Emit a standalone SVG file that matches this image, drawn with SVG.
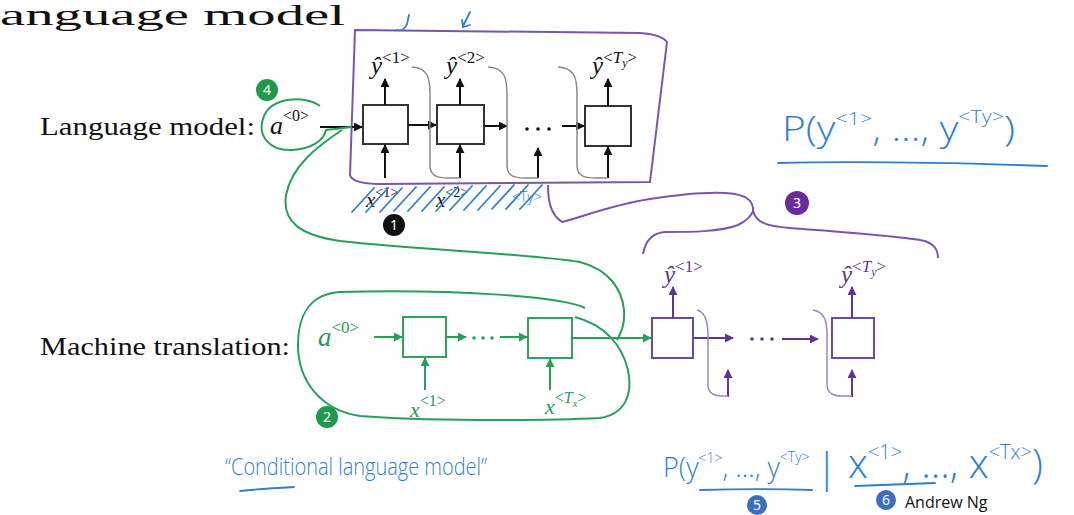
<svg xmlns="http://www.w3.org/2000/svg" width="1074" height="515" viewBox="0 0 1074 515">
<defs>
<style>
.serif{font-family:"Liberation Serif","DejaVu Serif",serif;fill:#111}
.it{font-style:italic}
.box{fill:#fff;stroke:#333;stroke-width:2}
.gbox{fill:#fff;stroke:#2ea35e;stroke-width:2}
.pbox{fill:#fff;stroke:#6e4a9e;stroke-width:2}
.k{stroke:#111;stroke-width:2;fill:none}
.g{stroke:#27a05a;stroke-width:2;fill:none}
.p{stroke:#5e3596;stroke-width:2;fill:none}
.pl{stroke:#7b55ad;stroke-width:2;fill:none}
.gray{stroke:#8a8a8a;stroke-width:1.5;fill:none}
.pgray{stroke:#9c86c4;stroke-width:1.5;fill:none}
.blue{stroke:#2f7fd0;stroke-width:1.8;fill:none;stroke-linecap:round}
.gt{fill:#2a9a58}
.pt{fill:#5e3596}
.hand{font-family:"Open Sans","Noto Sans",sans-serif;font-weight:300;fill:#2f7fd0}
.num{font-family:"Noto Sans","Liberation Sans",sans-serif;font-size:14px;fill:#fff;text-anchor:middle}
</style>
<marker id="ak" viewBox="0 0 10 10" refX="9" refY="5" markerWidth="9" markerHeight="9" markerUnits="userSpaceOnUse" orient="auto"><path d="M0,0 L10,5 L0,10 z" fill="#111"/></marker>
<marker id="ag" viewBox="0 0 10 10" refX="9" refY="5" markerWidth="9" markerHeight="9" markerUnits="userSpaceOnUse" orient="auto"><path d="M0,0 L10,5 L0,10 z" fill="#27a05a"/></marker>
<marker id="ap" viewBox="0 0 10 10" refX="9" refY="5" markerWidth="9" markerHeight="9" markerUnits="userSpaceOnUse" orient="auto"><path d="M0,0 L10,5 L0,10 z" fill="#5e3596"/></marker>
</defs>
<rect width="1074" height="515" fill="#fff"/>

<text class="serif" x="0" y="25" font-size="29" textLength="345" lengthAdjust="spacingAndGlyphs">anguage model</text>
<text class="serif" x="40" y="135" font-size="25" textLength="215" lengthAdjust="spacingAndGlyphs">Language model:</text>
<text class="serif" x="40" y="355" font-size="25" textLength="250" lengthAdjust="spacingAndGlyphs">Machine translation:</text>

<g id="lm-frame">
<path class="pl" d="M355,30 L640,33 C655,34 663,37 667,42 L650,182 L380,184 C365,184 352,182 350,175 Z"/>
</g>

<g id="lm-a0">
<text class="serif it" x="270" y="134" font-size="26">a<tspan font-style="normal" font-size="16" dy="-13">&lt;0&gt;</tspan></text>
</g>
<g id="lm-cell1"><rect class="box" x="363" y="105" width="45" height="39"/>
<text class="serif it" x="371" y="74" font-size="25">ŷ<tspan font-style="normal" font-size="17" dy="-11">&lt;1&gt;</tspan></text>
<text class="serif it" x="366" y="207" font-size="21">x<tspan font-style="normal" font-size="14" dy="-10">&lt;1&gt;</tspan></text></g>
<g id="lm-cell2"><rect class="box" x="437" y="105" width="47" height="39"/>
<text class="serif it" x="446" y="74" font-size="25">ŷ<tspan font-style="normal" font-size="17" dy="-11">&lt;2&gt;</tspan></text>
<text class="serif it" x="436" y="207" font-size="21">x<tspan font-style="normal" font-size="14" dy="-10">&lt;2&gt;</tspan></text></g>
<g id="lm-dots"><circle cx="527" cy="129" r="1.8" fill="#111"/><circle cx="538" cy="129" r="1.8" fill="#111"/><circle cx="549" cy="129" r="1.8" fill="#111"/></g>
<g id="lm-cell3"><rect class="box" x="585" y="106" width="46" height="40"/>
<text class="serif it" x="592" y="74" font-size="25">ŷ<tspan font-style="normal" font-size="17" dy="-11">&lt;</tspan><tspan font-size="17">T</tspan><tspan font-size="12" dy="4">y</tspan><tspan font-style="normal" font-size="17" dy="-4">&gt;</tspan></text></g>

<g id="mt-a0"><text class="serif it gt" x="318" y="346" font-size="27">a<tspan font-style="normal" font-size="17" dy="-13">&lt;0&gt;</tspan></text></g>
<g id="enc-cell1"><rect class="gbox" x="403" y="317" width="43" height="40"/>
<text class="serif it gt" x="410" y="417" font-size="22">x<tspan font-style="normal" font-size="16" dy="-11">&lt;1&gt;</tspan></text></g>
<g id="enc-dots"><circle cx="474" cy="338" r="1.8" fill="#27a05a"/><circle cx="483" cy="338" r="1.8" fill="#27a05a"/><circle cx="492" cy="338" r="1.8" fill="#27a05a"/></g>
<g id="enc-cell2"><rect class="gbox" x="528" y="318" width="44" height="40"/>
<text class="serif it gt" x="545" y="414" font-size="22">x<tspan font-style="normal" font-size="16" dy="-11">&lt;</tspan><tspan font-size="16">T</tspan><tspan font-size="11" dy="4">x</tspan><tspan font-style="normal" font-size="16" dy="-4">&gt;</tspan></text></g>

<g id="dec-cell1"><rect class="pbox" x="652" y="318" width="41" height="40"/>
<text class="serif it pt" x="664" y="283" font-size="25">ŷ<tspan font-style="normal" font-size="17" dy="-11">&lt;1&gt;</tspan></text></g>
<g id="dec-dots"><circle cx="752" cy="339" r="1.8" fill="#5e3596"/><circle cx="762" cy="339" r="1.8" fill="#5e3596"/><circle cx="772" cy="339" r="1.8" fill="#5e3596"/></g>
<g id="dec-cell2"><rect class="pbox" x="832" y="318" width="42" height="40"/>
<text class="serif it pt" x="841" y="283" font-size="25">ŷ<tspan font-style="normal" font-size="17" dy="-11">&lt;</tspan><tspan font-size="17">T</tspan><tspan font-size="12" dy="4">y</tspan><tspan font-style="normal" font-size="17" dy="-4">&gt;</tspan></text></g>

<g id="connectors">
<path class="k" d="M320,127 L362,127" marker-end="url(#ak)"/>
<path class="k" d="M408,125 L436,125" marker-end="url(#ak)"/>
<path class="k" d="M484,126 L507,126" marker-end="url(#ak)"/>
<path class="k" d="M562,126 L584,126" marker-end="url(#ak)"/>
<path class="k" d="M385,105 L385,79" marker-end="url(#ak)"/>
<path class="k" d="M460,105 L460,79" marker-end="url(#ak)"/>
<path class="k" d="M608,106 L608,79" marker-end="url(#ak)"/>
<path class="k" d="M385,178 L385,145" marker-end="url(#ak)"/>
<path class="k" d="M460,178 L460,145" marker-end="url(#ak)"/>
<path class="k" d="M538,178 L538,148" marker-end="url(#ak)"/>
<path class="k" d="M608,178 L608,147" marker-end="url(#ak)"/>
<path class="gray" d="M412,67 C428,68 430,78 430,95 L430,165 C430,176 437,178 448,178 L460,178"/>
<path class="gray" d="M488,67 C505,68 507,78 507,95 L507,165 C507,176 514,178 525,178 L538,178"/>
<path class="gray" d="M558,67 C575,68 577,78 577,95 L577,165 C577,176 584,178 595,178 L608,178"/>

<path class="g" d="M374,337 L402,337" marker-end="url(#ag)"/>
<path class="g" d="M446,337 L466,337" marker-end="url(#ag)"/>
<path class="g" d="M500,337 L527,337" marker-end="url(#ag)"/>
<path class="g" d="M572,338 L651,338" marker-end="url(#ag)"/>
<path class="g" d="M425,390 L425,358" marker-end="url(#ag)"/>
<path class="g" d="M550,390 L550,359" marker-end="url(#ag)"/>

<path class="p" d="M693,338 L733,338" marker-end="url(#ap)"/>
<path class="p" d="M782,339 L818,339" marker-end="url(#ap)"/>
<path class="p" d="M673,318 L673,287" marker-end="url(#ap)"/>
<path class="p" d="M852,318 L852,287" marker-end="url(#ap)"/>
<path class="p" d="M728,397 L728,370" marker-end="url(#ap)"/>
<path class="p" d="M852,397 L852,370" marker-end="url(#ap)"/>
<path class="pgray" d="M697,310 C705,312 708,320 708,335 L708,385 C708,393 714,396 722,396 L728,396"/>
<path class="pgray" d="M813,310 C824,312 827,320 827,335 L827,385 C827,393 834,396 842,396 L852,396"/>

<path class="g" d="M320,106 C305,95 272,97 264,116 C256,136 270,151 292,150 C312,149 324,140 326,130 L352,127"/>
<path class="g" d="M342,130 C318,146 292,165 286,195 C282,222 300,235 340,241 C420,250 520,253 580,262 C610,270 622,290 624,310 C625,325 621,333 617,340"/>
<path class="g" d="M585,308 C560,296 450,289 340,292 C310,294 298,315 298,345 C298,380 320,410 360,416 C420,421 540,421 600,418 C625,414 633,395 628,370 C622,345 605,325 575,317"/>

<path class="pl" d="M548,185 C548,200 550,214 562,222 C580,218 610,205 650,199 C690,193 730,190 745,197 C752,201 754,207 753,213"/>
<path class="pl" d="M643,254 C645,243 650,233 665,232 C690,232 720,232 738,225 C748,220 752,214 753,211 C756,222 765,226 790,228 C840,232 900,236 925,241 C935,245 938,250 938,258"/>
</g>

<g id="annotations">
<path class="blue" d="M397,30 C401,31 405,29 407,24 L409,15"/>
<path class="blue" d="M470,12 L463,26 M462,20 L463,27 L470,25"/>
<path class="blue" d="M352,212 L374,188 M366,212 L388,188 M380,212 L402,188 M394,211 L416,187 M408,211 L430,187 M422,211 L444,187 M436,211 L458,187 M450,210 L472,186 M464,210 L486,186 M478,210 L500,186 M492,209 L514,185 M506,209 L528,185 M520,209 L542,185"/>
<text class="hand" x="512" y="202" font-size="14">&lt;Ty&gt;</text>
<text class="hand" x="782" y="141" font-size="34" textLength="233" lengthAdjust="spacingAndGlyphs">P(y<tspan font-size="18" dy="-16">&lt;1&gt;</tspan><tspan dy="16">, ..., y</tspan><tspan font-size="18" dy="-18">&lt;Ty&gt;</tspan><tspan dy="18">)</tspan></text>
<path class="blue" d="M778,163 C860,161 960,163 1047,166"/>
<text class="hand" x="225" y="475" font-size="24" textLength="262" lengthAdjust="spacingAndGlyphs">“Conditional  language  model”</text>
<path class="blue" d="M240,491 C258,489 275,488 294,487"/>
<text class="hand" x="663" y="477" font-size="27">P(y<tspan font-size="14" dy="-14">&lt;1&gt;</tspan><tspan dy="14">, ..., y</tspan><tspan font-size="14" dy="-15">&lt;Ty&gt;</tspan></text>
<text class="hand" x="816" y="482" font-size="40">|</text>
<text class="hand" x="848" y="478" font-size="40">x<tspan font-size="20" dy="-19">&lt;1&gt;</tspan><tspan dy="19">, ..., x</tspan><tspan font-size="20" dy="-19">&lt;Tx&gt;</tspan><tspan dy="19">)</tspan></text>
<path class="blue" d="M700,490 C740,489 780,489 812,490"/>
<path class="blue" d="M855,486 C880,485 910,484 935,483"/>
<text x="905" y="508" font-family="Open Sans,Noto Sans,sans-serif" font-size="16" fill="#111">Andrew Ng</text>
</g>

<g id="badges">
<circle cx="267" cy="90" r="11" fill="#1e9a4c"/><text class="num" x="267" y="95">4</text>
<circle cx="394" cy="225" r="11" fill="#111"/><text class="num" x="394" y="230">1</text>
<circle cx="797" cy="203" r="12" fill="#6a2c9c"/><text class="num" x="797" y="208">3</text>
<circle cx="327" cy="417" r="11" fill="#1e9a4c"/><text class="num" x="327" y="422">2</text>
<circle cx="757" cy="505" r="10" fill="#3b6fc4"/><text class="num" x="757" y="510">5</text>
<circle cx="886" cy="500" r="10" fill="#3b6fc4"/><text class="num" x="886" y="505">6</text>
</g>
</svg>
